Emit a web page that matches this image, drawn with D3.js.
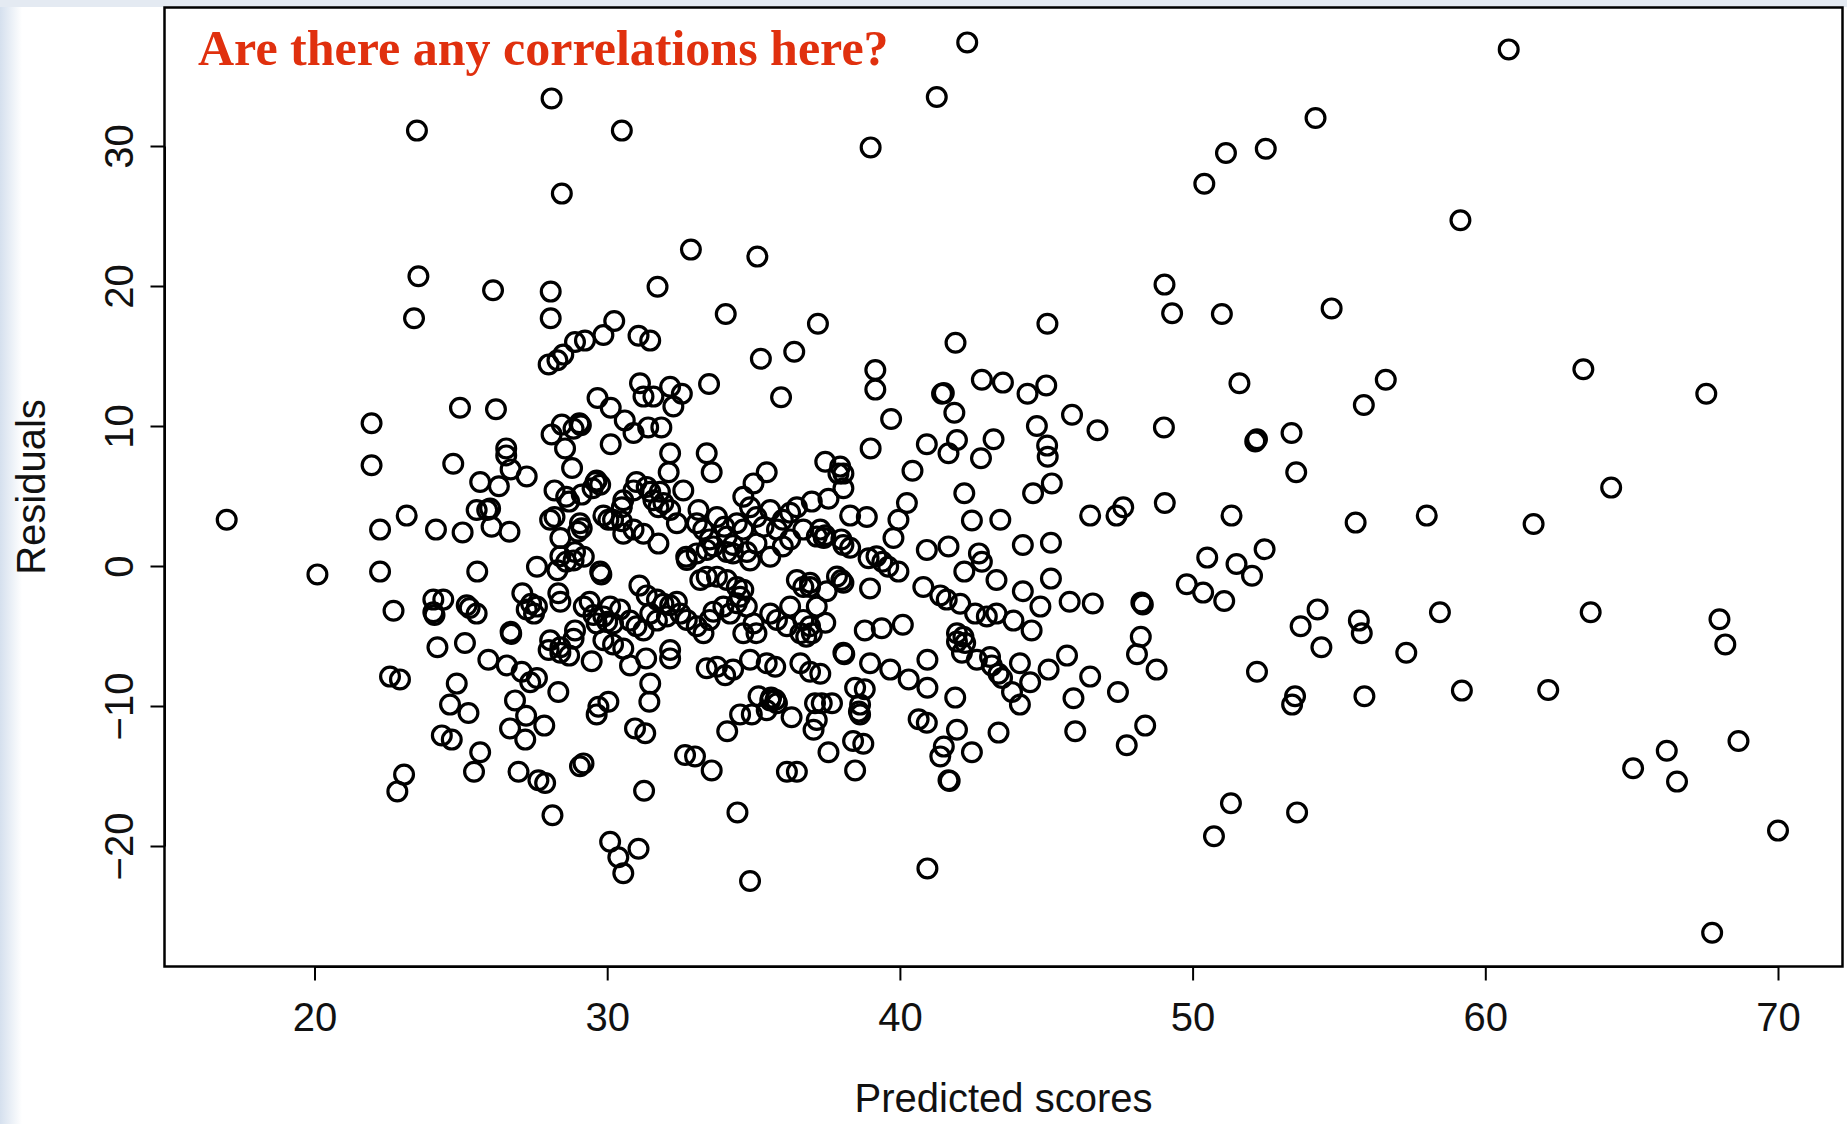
<!DOCTYPE html>
<html>
<head>
<meta charset="utf-8">
<script src="https://cdn.jsdelivr.net/npm/d3@7"></script>
<style>
  html, body { margin: 0; padding: 0; background: #ffffff; }
  svg { display: block; }
</style>
</head>
<body>
<svg id="chart" width="1847" height="1124"></svg>
<script>
// ---------------- data ----------------
const titleText = "Are there any correlations here?";
const xLabel = "Predicted scores";
const yLabel = "Residuals";
const xTicks = [20, 30, 40, 50, 60, 70];
const yTicks = [-20, -10, 0, 10, 20, 30];

// sparse points / outliers
const predictedA = [17.0,20.1,23.5,28.1,30.5,28.45,32.86,35.13,23.55,23.4,
  26.1,28.07,28.07,31.72,34.05,37.2,39.0,41.26,42.3,45.04,
  41.9,60.8,54.2,52.5,51.14,50.4,59.15,49.04,49.3,51.0,
  54.75,51.6,56.6,55.85,63.35,67.55,46.75,49.02,52.14,52.2,
  53.38,53.54,64.3,46.5,47.4,47.63,49.05,51.33,55.57,58.0,
  61.65,50.5,52.46,51.5,52.03,49.8,50.36,51.08,46.59,48.25,
  48.3,54.27,53.69,55.68,55.78,54.4,57.3,58.45,63.6,68.0,
  68.2,48.23,48.1,48.77,46.5,47.45,52.2,53.5,53.4,55.87,
  59.2,62.15,48.38,47.75,68.65,66.2,65.05,66.55,51.31,53.57,
  50.73,70.0,67.75];
const residualsA = [3.3,-0.6,31.1,33.4,31.1,26.6,22.6,22.1,20.7,17.7,
  19.7,19.6,17.7,19.95,18.0,17.3,29.9,33.5,37.4,17.3,
  15.95,36.9,32.0,29.8,29.5,27.3,24.7,20.1,18.05,18.0,
  18.4,13.05,13.3,11.5,14.05,12.3,9.7,9.9,8.9,9.05,
  9.5,6.7,5.6,3.6,3.6,4.2,4.5,3.6,3.1,3.6,
  3.0,0.6,1.2,0.14,-0.7,-1.3,-1.9,-2.5,-2.67,-2.6,
  -2.75,-3.1,-4.3,-3.9,-4.8,-5.8,-6.2,-3.3,-3.3,-3.8,
  -5.6,-5.05,-6.3,-7.4,-7.9,-9.0,-7.55,-9.3,-9.9,-9.3,
  -8.9,-8.86,-11.4,-12.8,-12.5,-13.2,-14.45,-15.4,-16.95,-17.6,
  -19.3,-18.9,-26.2];

// upper band of the main cloud
const predictedB = [28.9,28.5,28.3,28.0,24.97,26.2,21.95,28.45,29.05,29.1,
  30.24,29.87,29.24,31.07,31.47,35.25,36.39,35.94,33.48,31.12,
  31.24,31.58,32.15,32.55,32.26,29.67,30.12,30.6,31.4,31.85,
  39.16,39.16,41.44,41.5,41.86,42.8,43.52,44.36,45.0,45.88,
  39.7,44.68];
const residualsB = [16.0,15.1,14.7,14.4,11.3,11.2,10.2,10.1,10.2,10.05,
  17.5,16.5,16.1,16.45,16.1,14.8,15.3,12.05,13.0,13.05,
  12.1,12.1,12.8,12.3,11.4,12.0,11.3,10.4,9.9,9.9,
  14.0,12.6,12.3,12.35,10.95,13.3,13.1,12.3,12.9,10.8,
  10.5,10.0];

// left part of the cloud
const predictedC = [21.95,24.74,26.55,26.55,26.7,27.25,25.66,26.3,25.54,25.9,
  26.0,26.05,26.66,23.15,22.24,24.15,25.06,22.24,25.56,22.7,
  24.06,24.4,24.06,24.1,25.2,25.3,25.54,24.2,25.14,28.1,
  28.85,28.56,28.8,28.2,28.6,28.7,28.05,28.2,28.4,29.0,
  28.4,28.6,28.85,27.6,28.3,27.1,27.4,27.6,27.25,27.5,
  28.33,28.4,26.7,26.72,28.9,28.05,28.4];
const residualsC = [7.2,7.3,8.4,7.9,6.9,6.4,6.0,5.7,4.0,4.0,
  4.1,2.8,2.45,3.6,2.6,2.6,2.4,-0.4,-0.4,-3.2,
  -2.4,-2.4,-3.3,-3.5,-2.8,-3.0,-3.4,-5.8,-5.5,9.4,
  9.8,8.4,7.0,5.4,4.95,4.6,3.3,3.5,2.0,2.45,
  0.7,0.3,0.4,-0.05,-0.3,-1.95,-2.7,-2.9,-3.1,-3.4,
  -1.95,-2.55,-4.7,-4.85,-4.6,-5.3,-5.8];

// lower left part
const predictedD = [22.58,22.92,25.94,26.57,27.08,27.6,27.37,28.0,28.4,28.7,
  28.33,24.86,24.63,25.26,26.85,27.23,26.68,27.2,27.85,24.35,
  24.69,25.66,25.45,23.06,22.83,26.97,27.65,27.88,28.13];
const residualsD = [-7.9,-8.1,-6.7,-7.1,-7.55,-8.0,-8.3,-6.0,-6.2,-6.4,
  -9.0,-8.4,-9.9,-10.5,-9.6,-10.7,-11.6,-12.4,-11.4,-12.1,
  -12.4,-13.3,-14.7,-14.9,-16.1,-14.7,-15.3,-15.5,-17.8];

// lower middle part
const predictedE = [29.47,30.2,30.55,30.78,31.33,32.15,32.15,31.47,31.44,30.04,
  29.7,29.64,30.95,31.3,29.19,29.07,32.66,33.0,33.57,31.26,
  30.1,30.38,31.07,30.55,34.45,34.88,33.4,33.75,34.03,34.3,
  34.88,35.45,35.74,35.17,35.57,35.8,35.45,35.6,35.75,34.54,
  34.94,34.1,36.3,36.6,36.93,37.05,36.14,36.48,37.1];
const residualsE = [-6.8,-5.6,-5.9,-7.1,-6.6,-6.0,-6.6,-8.4,-9.7,-9.7,
  -10.05,-10.6,-11.6,-11.95,-14.1,-14.3,-13.5,-13.6,-14.6,-16.05,
  -19.7,-20.8,-20.2,-21.95,-17.6,-22.5,-7.3,-7.2,-7.8,-7.4,
  -6.7,-6.95,-7.2,-9.3,-9.6,-9.8,-10.3,-9.4,-9.55,-10.6,
  -10.6,-11.8,-10.8,-6.95,-7.55,-11.7,-14.7,-14.7,-9.8];

// lower right part
const predictedF = [38.07,38.1,38.98,39.67,40.3,40.94,40.94,37.28,37.33,37.68,
  37.16,37.56,38.47,38.8,38.64,38.6,38.64,38.4,38.75,38.47,
  40.64,40.92,41.89,41.95,41.5,41.38,42.46,41.66,41.7,43.37,
  40.94,42.12,42.63,43.08,43.14,43.37,43.49,44.1,44.45,45.08,
  45.71,43.83,44.1,45.93,45.99,41.95,42.23];
const residualsF = [-6.2,-6.3,-6.95,-7.4,-8.1,-6.7,-8.7,-7.7,-9.8,-9.8,
  -11.0,-13.3,-8.7,-8.8,-9.9,-10.4,-10.6,-12.5,-12.7,-14.6,
  -10.95,-11.2,-9.4,-11.7,-12.9,-13.6,-13.3,-15.3,-15.35,-11.9,
  -21.6,-6.2,-6.7,-6.5,-7.1,-7.7,-8.0,-6.95,-8.3,-7.4,
  -6.4,-9.0,-9.9,-9.45,-11.8,-5.4,-5.5];

// right part of the cloud
const predictedG = [39.0,40.92,41.66,41.95,42.77,43.2,45.03,45.05,37.45,37.96,
  37.9,38.07,38.07,37.56,36.99,40.43,42.2,45.19,44.55,40.24,
  39.95,39.78,38.3,38.87,42.46,43.43,37.28,37.45,37.4,38.0,
  38.3,38.07,38.93,39.2,39.4,39.6,39.95,40.92,41.66,42.7,
  42.8,42.2,43.3,44.2,45.16,45.16,37.85,38.0,38.07,38.98,
  37.5,36.93,37.45,36.99,40.8,41.38,41.6,42.06,42.57,42.97,
  43.3,43.88,44.2,44.8,44.5,45.8,38.8,39.38,40.1,41.95,
  42.17];
const residualsG = [8.4,8.7,8.05,9.0,7.7,9.05,8.6,7.8,7.45,7.1,
  6.6,6.6,5.55,4.8,4.6,6.8,5.2,5.9,5.2,4.5,
  3.3,2.0,3.6,3.5,3.25,3.3,2.6,2.2,2.0,1.9,
  1.3,1.5,0.55,0.7,0.3,-0.05,-0.4,1.15,1.4,0.9,
  0.3,-0.4,-1.0,1.5,1.66,-0.9,-0.75,-1.0,-1.2,-1.6,
  -1.8,-1.5,-4.05,-4.8,-1.5,-2.1,-2.4,-2.7,-3.4,-3.6,
  -3.4,-3.9,-1.8,-2.9,-4.6,-2.55,-4.6,-4.45,-4.2,-4.8,
  -5.05];

// dense core
const predictedH = [30.9,30.12,32.15,32.1,33.4,33.57,35.45,35.0,29.6,29.76,
  29.5,29.64,29.13,31.0,30.9,31.35,31.47,31.8,32.6,30.55,
  30.5,31.58,31.75,31.92,32.15,29.87,30.04,30.2,30.5,30.55,
  30.9,31.24,31.75,32.38,29.13,33.12,33.06,33.28,33.5,32.7,
  33.06,33.75,34.0,34.09,34.3,34.43,34.65,34.88,34.65,35.1,
  35.34,35.57,35.8,36.0,36.25,36.48,35.1,35.57,36.0,36.25,
  36.7,37.16,33.63,34.09,34.3,34.77,33.4,32.72,34.88,29.07,
  28.9,29.2,29.76,29.8,31.1,31.35,31.7,31.92,32.15,32.38,
  31.47,31.7,32.04,29.4,29.2,29.53,29.87,30.1,30.44,30.78,
  31.0,31.24,30.2,30.0,29.64,28.85,32.5,32.72,33.06,33.29,
  33.5,33.63,33.97,34.2,33.4,33.18,33.75,34.09,34.43,34.65,
  34.43,34.77,34.54,35.0,35.57,35.8,36.25,36.48,36.7,36.93,
  36.14,36.7,36.93,37.16,34.65,35.1,36.6,36.8,29.87];
const residualsH = [9.5,8.7,8.05,6.7,8.05,6.7,6.7,5.9,6.0,5.8,
  5.55,6.1,5.1,6.0,5.4,5.65,5.3,5.3,5.4,4.7,
  4.2,4.7,4.2,4.5,4.0,3.6,3.3,3.3,3.2,2.3,
  2.6,2.3,1.6,3.05,2.7,4.0,3.05,2.6,1.9,0.66,
  0.9,3.5,2.8,2.1,1.5,3.05,2.6,4.2,4.95,3.5,
  2.8,4.0,2.6,3.3,3.8,4.2,1.6,0.66,1.4,1.9,
  2.6,2.1,1.4,1.0,0.9,1.0,1.15,0.43,0.4,3.05,
  1.0,0.66,-0.4,-0.6,-1.4,-2.1,-2.4,-2.7,-2.8,-2.55,
  -3.4,-3.9,-3.6,-2.55,-2.9,-3.5,-3.6,-2.9,-3.1,-3.9,
  -4.3,-4.6,-4.1,-3.98,-4.1,-5.2,-3.4,-3.85,-4.3,-4.8,
  -3.85,-3.26,-2.9,-3.4,-0.76,-1.0,-0.76,-1.0,-1.5,-1.7,
  -2.66,-2.9,-2.2,-4.1,-3.4,-3.85,-2.9,-1.0,-1.5,-1.2,
  -4.3,-3.85,-4.3,-2.9,-4.8,-4.8,-4.8,-5.05,-5.3];

// ---------------- build ----------------
const predicted = [].concat(predictedA, predictedB, predictedC, predictedD, predictedE, predictedF, predictedG, predictedH);
const residuals = [].concat(residualsA, residualsB, residualsC, residualsD, residualsE, residualsF, residualsG, residualsH);
const points = predicted.map((p, i) => ({ x: p, y: residuals[i] }));

const svg = d3.select("#chart");
const W = 1847, H = 1124;
const box = { left: 164.5, top: 7.5, right: 1842.5, bottom: 966.5 };

// page background hint (slide edge)
const defs = svg.append("defs");
const lg = defs.append("linearGradient").attr("id", "edge").attr("x1", "0").attr("x2", "1");
lg.append("stop").attr("offset", "0").attr("stop-color", "#d5e0ee");
lg.append("stop").attr("offset", "1").attr("stop-color", "#ffffff");
svg.append("rect").attr("x", 0).attr("y", 0).attr("width", W).attr("height", H).attr("fill", "#fff");
svg.append("rect").attr("x", 0).attr("y", 0).attr("width", 22).attr("height", H).attr("fill", "url(#edge)");
svg.append("rect").attr("x", 0).attr("y", 0).attr("width", W).attr("height", 7).attr("fill", "#e4eaf2");

const x = d3.scaleLinear().domain([20, 70]).range([314.5, 1778]);
const y = d3.scaleLinear().domain([-20, 30]).range([846, 146]);

// plot area background
svg.append("rect")
  .attr("x", box.left).attr("y", box.top)
  .attr("width", box.right - box.left).attr("height", box.bottom - box.top)
  .attr("fill", "#fff");

const fmt = d => d < 0 ? "\u2212" + Math.abs(d) : String(d);

// x axis
const gx = svg.append("g")
  .attr("transform", `translate(0,${box.bottom})`)
  .call(d3.axisBottom(x).tickValues(xTicks).tickSize(14).tickSizeOuter(0).tickFormat(fmt));
gx.select(".domain").attr("stroke", "#000").attr("stroke-width", 2);
gx.selectAll(".tick line").attr("stroke", "#000").attr("stroke-width", 2);
gx.selectAll(".tick text")
  .attr("y", 64).attr("dy", null)
  .attr("font-family", "'Liberation Sans', Arial, Helvetica, sans-serif")
  .attr("font-size", 40).attr("fill", "#111");

// y axis
const gy = svg.append("g")
  .attr("transform", `translate(${box.left},0)`)
  .call(d3.axisLeft(y).tickValues(yTicks).tickSize(14).tickSizeOuter(0).tickFormat(fmt));
gy.select(".domain").attr("stroke", "#000").attr("stroke-width", 2);
gy.selectAll(".tick line").attr("stroke", "#000").attr("stroke-width", 2);
gy.selectAll(".tick text")
  .attr("x", null).attr("dy", null)
  .attr("transform", "translate(-32,0) rotate(-90)")
  .attr("text-anchor", "middle")
  .attr("font-family", "'Liberation Sans', Arial, Helvetica, sans-serif")
  .attr("font-size", 40).attr("fill", "#111");

// frame
svg.append("rect")
  .attr("x", box.left).attr("y", box.top)
  .attr("width", box.right - box.left).attr("height", box.bottom - box.top)
  .attr("fill", "none").attr("stroke", "#000").attr("stroke-width", 2.5);

// points
svg.append("g")
  .selectAll("circle")
  .data(points)
  .join("circle")
  .attr("cx", d => x(d.x))
  .attr("cy", d => y(d.y))
  .attr("r", 9.4)
  .attr("fill", "none")
  .attr("stroke", "#000")
  .attr("stroke-width", 3.2);

// axis titles
svg.append("text")
  .attr("x", (box.left + box.right) / 2).attr("y", 1112)
  .attr("text-anchor", "middle")
  .attr("font-family", "'Liberation Sans', Arial, Helvetica, sans-serif")
  .attr("font-size", 40).attr("fill", "#111")
  .text(xLabel);

svg.append("text")
  .attr("transform", `translate(45,${(box.top + box.bottom) / 2}) rotate(-90)`)
  .attr("text-anchor", "middle")
  .attr("font-family", "'Liberation Sans', Arial, Helvetica, sans-serif")
  .attr("font-size", 40).attr("fill", "#111")
  .text(yLabel);

// title
svg.append("text")
  .attr("x", 198).attr("y", 65)
  .attr("font-family", "'Liberation Serif', 'Times New Roman', serif")
  .attr("font-weight", "bold")
  .attr("font-size", 50)
  .attr("fill", "#e0300e")
  .text(titleText);
</script>
</body>
</html>
